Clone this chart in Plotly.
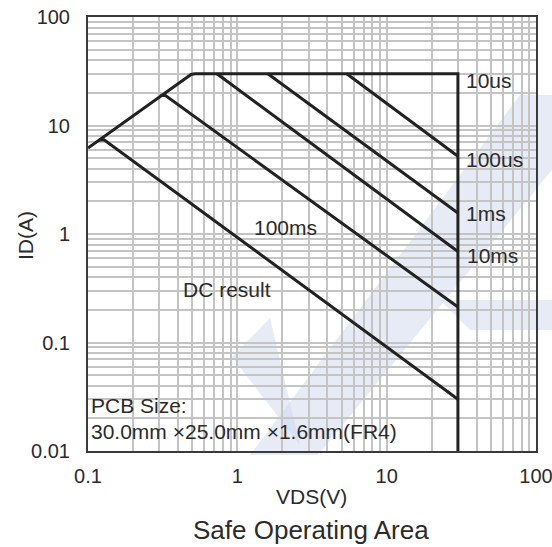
import math
import plotly.graph_objects as go

# ---- data ----
x_tick_vals = [0.1, 1, 10, 100]
x_tick_text = ["0.1", "1", "10", "100"]
y_tick_vals = [0.01, 0.1, 1, 10, 100]
y_tick_text = ["0.01", "0.1", "1", "10", "100"]

# boundary (10us): Rds(on) limit, current limit, voltage limit
v_10us = [0.1, 0.49, 0.52, 30, 30]
i_10us = [6.2, 29.5, 30, 30, 0.01]
v_100us = [5.4, 30]
i_100us = [30, 5.2]
v_1ms = [1.6, 30]
i_1ms = [30, 1.56]
v_10ms = [0.73, 30]
i_10ms = [30, 0.69]
v_100ms = [0.305, 0.33, 30]
i_100ms = [18.9, 18.9, 0.212]
v_dc = [0.118, 0.128, 30]
i_dc = [7.35, 7.4, 0.030]

curve_labels = ["10us", "100us", "1ms", "10ms", "100ms", "DC result"]
label_v = [33.0, 33.0, 33.0, 33.5, 2.09, 0.85]
label_i = [25.9, 4.91, 1.56, 0.64, 1.14, 0.305]

pcb_lines = ["PCB Size:", "30.0mm \u00d725.0mm \u00d71.6mm(FR4)"]
pcb_v = [0.101, 0.101]
pcb_i = [0.026, 0.0150]

FONT = "Liberation Sans, Arial, sans-serif"
TXT = "#2b2b2b"
L = math.log10

fig = go.Figure()

# decorative light-blue watermark (paper coords)
W, H = 448.0, 434.0
X0, Y0 = 88.0, 451.0
def px(x, y):
    return ((x - X0) / W, (Y0 - y) / H)
def poly(pts):
    s = ""
    for k, (x, y) in enumerate(pts):
        a, b = px(x, y)
        s += ("M" if k == 0 else "L") + f"{a:.4f},{b:.4f}"
    return s + "Z"
wm_color = "rgba(205,215,238,0.5)"
wm_polys = [
    [(250, 455), (318, 455), (552, 170), (552, 95), (520, 95)],
    [(232, 357), (270, 318), (300, 445)],
    [(440, 300), (552, 300), (552, 330), (470, 330)],
]
for p in wm_polys:
    fig.add_shape(type="path", path=poly(p), xref="paper", yref="paper",
                  fillcolor=wm_color, line=dict(width=0), layer="below")

line_style = dict(color="#222222", width=3)
for v, i in [(v_10us, i_10us), (v_100us, i_100us), (v_1ms, i_1ms),
             (v_10ms, i_10ms), (v_100ms, i_100ms), (v_dc, i_dc)]:
    fig.add_trace(go.Scatter(x=v, y=i, mode="lines", line=line_style,
                             showlegend=False, hoverinfo="skip"))

for lab_, lv, li in zip(curve_labels, label_v, label_i):
    fig.add_annotation(x=L(lv), y=L(li), xref="x", yref="y", text=lab_, showarrow=False,
                       xanchor="left" if lv > 20 else "center", yanchor="middle",
                       font=dict(family=FONT, size=21, color=TXT))

for t, lv, li in zip(pcb_lines, pcb_v, pcb_i):
    fig.add_annotation(x=L(lv), y=L(li), xref="x", yref="y", text=t, showarrow=False,
                       xanchor="left", yanchor="middle", font=dict(family=FONT, size=21, color=TXT))

# axis titles and chart title
fig.add_annotation(x=(311 - 88) / 448, y=(451 - 496) / 434, xref="paper", yref="paper", text="VDS(V)",
                   showarrow=False, xanchor="center", yanchor="middle",
                   font=dict(family=FONT, size=21, color=TXT))
fig.add_annotation(x=(25 - 88) / 448, y=(451 - 236) / 434, xref="paper", yref="paper", text="ID(A)",
                   showarrow=False, textangle=-90, xanchor="center", yanchor="middle",
                   font=dict(family=FONT, size=21, color=TXT))
fig.add_annotation(x=(311 - 88) / 448, y=(451 - 530) / 434, xref="paper", yref="paper",
                   text="Safe Operating Area", showarrow=False, xanchor="center", yanchor="middle",
                   font=dict(family=FONT, size=26, color=TXT))

grid_x = [m * 10 ** e for e in (-1, 0, 1) for m in range(1, 10)] + [100]
grid_y = [m * 10 ** e for e in (-2, -1, 0, 1) for m in range(1, 10)] + [100]

def lab(vals, tv, tt):
    out = []
    for g in vals:
        t = ""
        for a, b in zip(tv, tt):
            if abs(g - a) / a < 1e-6:
                t = b
        out.append(t)
    return out

fig.update_xaxes(type="log", range=[-1, 2], tickvals=grid_x, ticktext=lab(grid_x, x_tick_vals, x_tick_text),
                 showgrid=True, gridcolor="#c4c4c4", gridwidth=1.5, ticks="", zeroline=False,
                 showline=True, linecolor="#3a3a3a", linewidth=2, mirror=True, automargin=False,
                 ticklabeloverflow="allow",
                 tickfont=dict(family=FONT, size=20, color=TXT), ticklabelstandoff=6)
fig.update_yaxes(type="log", range=[-2, 2], tickvals=grid_y, ticktext=lab(grid_y, y_tick_vals, y_tick_text),
                 showgrid=True, gridcolor="#c4c4c4", gridwidth=1.5, ticks="", zeroline=False,
                 showline=True, linecolor="#3a3a3a", linewidth=2, mirror=True, automargin=False,
                 ticklabeloverflow="allow",
                 tickfont=dict(family=FONT, size=20, color=TXT), ticklabelstandoff=12)

fig.update_layout(width=552, height=547, margin=dict(l=88, r=16, t=17, b=96),
                  plot_bgcolor="rgba(0,0,0,0)", paper_bgcolor="white", showlegend=False)

fig.write_html("out.html", config={"displayModeBar": False},
               post_script="document.body.style.margin='0px';")
